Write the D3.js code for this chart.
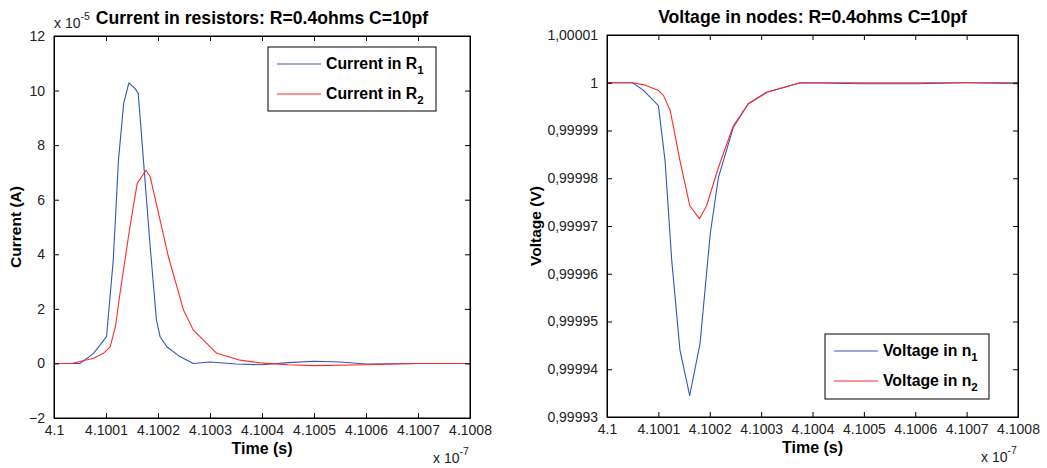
<!DOCTYPE html>
<html><head><meta charset="utf-8">
<script src="https://cdn.jsdelivr.net/npm/d3@7"></script>
<style>
body{margin:0;background:#fff}
svg{display:block}
text{font-family:"Liberation Sans",Arial,Helvetica,sans-serif}
</style>
</head><body>
<svg id="c" width="1047" height="468"></svg>
<script>
// ---------- data ----------
const timeTicks = [4.1, 4.1001, 4.1002, 4.1003, 4.1004, 4.1005, 4.1006, 4.1007, 4.1008];
const currentTicks = [-2, 0, 2, 4, 6, 8, 10, 12];
const voltageTicks = [0.99993, 0.99994, 0.99995, 0.99996, 0.99997, 0.99998, 0.99999, 1, 1.00001];

// time in units of 1e-7 s, current in units of 1e-5 A
const timeR1 = [4.1, 4.10003, 4.10005, 4.100076, 4.100101, 4.100114, 4.100124, 4.100134, 4.100144, 4.100156, 4.100162, 4.100172, 4.100185, 4.100197, 4.100204, 4.100217, 4.100242, 4.100268, 4.1003, 4.10035, 4.1004, 4.10045, 4.1005, 4.10055, 4.1006, 4.1007, 4.1008];
const currentR1 = [0, 0, 0, 0.37, 0.98, 3.8, 7.45, 9.53, 10.28, 10.07, 9.89, 7.45, 4.27, 1.59, 0.98, 0.61, 0.25, 0, 0.05, -0.02, -0.05, 0.03, 0.08, 0.05, -0.02, 0, 0];
const timeR2 = [4.1, 4.100034, 4.100076, 4.100095, 4.100108, 4.100118, 4.100127, 4.100146, 4.10016, 4.100177, 4.100185, 4.100204, 4.10022, 4.100249, 4.100268, 4.100313, 4.100358, 4.100396, 4.10045, 4.1005, 4.1006, 4.1007, 4.1008];
const currentR2 = [0, 0, 0.19, 0.37, 0.61, 1.34, 2.58, 5.0, 6.6, 7.08, 6.84, 5.25, 3.91, 1.96, 1.22, 0.37, 0.12, 0.02, -0.05, -0.08, -0.05, 0, 0];

const timeN1 = [4.1, 4.10005, 4.100071, 4.1001, 4.100113, 4.100126, 4.100142, 4.100161, 4.100181, 4.100201, 4.100217, 4.100246, 4.100275, 4.100311, 4.100376, 4.1005, 4.1006, 4.1007, 4.1008];
const voltageN1 = [1, 1, 0.9999984, 0.9999952, 0.9999837, 0.9999628, 0.999944, 0.9999345, 0.9999453, 0.9999684, 0.9999802, 0.9999907, 0.9999956, 0.999998, 1, 0.9999998, 0.9999998, 1, 1];
const timeN2 = [4.1, 4.10005, 4.100075, 4.1001, 4.10011, 4.100123, 4.100142, 4.100161, 4.10018, 4.100194, 4.100217, 4.100246, 4.100275, 4.100311, 4.100376, 4.1005, 4.1006, 4.1007, 4.1008];
const voltageN2 = [1, 1, 0.9999995, 0.9999984, 0.9999973, 0.9999942, 0.9999837, 0.9999743, 0.9999715, 0.9999743, 0.9999823, 0.999991, 0.9999956, 0.999998, 1, 1, 1, 1, 0.9999998];

// ---------- drawing ----------
const svg = d3.select("#c");
const BLUE = "#3455b8", RED = "#ff2b2b";
const fmtTime = d3.format(".4~f");
const fmtVolt = v => d3.format(".5~f")(v).replace(".", ",");

function panel(o) {
  const x = d3.scaleLinear().domain([timeTicks[0], timeTicks[timeTicks.length-1]]).range([o.x0, o.x1]);
  const y = d3.scaleLinear().domain([o.yTicks[0], o.yTicks[o.yTicks.length-1]]).range([o.y1, o.y0]);
  const g = svg.append("g");
  g.append("rect").attr("x", o.x0).attr("y", o.y0).attr("width", o.x1-o.x0).attr("height", o.y1-o.y0)
    .attr("fill", "#fff").attr("stroke", "none");
  const line = d3.line().x(d => x(d[0])).y(d => y(d[1]));
  o.series.forEach(s => {
    g.append("path").datum(d3.zip(s.t, s.v)).attr("d", line)
      .attr("fill", "none").attr("stroke", s.color).attr("stroke-width", 1.1).attr("stroke-linejoin", "round");
  });
  const tl = 5;
  const bottom = d3.axisBottom(x).tickValues(timeTicks).tickFormat(fmtTime).tickSizeInner(-tl).tickSizeOuter(0).tickPadding(7);
  const top = d3.axisTop(x).tickValues(timeTicks).tickFormat("").tickSizeInner(-tl).tickSizeOuter(0);
  const left = d3.axisLeft(y).tickValues(o.yTicks).tickFormat(o.yFmt).tickSizeInner(-tl).tickSizeOuter(0).tickPadding(9);
  const right = d3.axisRight(y).tickValues(o.yTicks).tickFormat("").tickSizeInner(-tl).tickSizeOuter(0);
  const styleAx = a => { a.select(".domain").attr("stroke", "#000"); a.selectAll(".tick line").attr("stroke", "#000");
    a.selectAll("text").attr("font-size", 14).attr("fill", "#222").attr("font-family", '"Liberation Sans",Arial,sans-serif'); };
  g.append("g").attr("transform", `translate(0,${o.y1})`).call(bottom).call(styleAx);
  g.append("g").attr("transform", `translate(0,${o.y0})`).call(top).call(styleAx);
  g.append("g").attr("transform", `translate(${o.x0},0)`).call(left).call(styleAx);
  g.append("g").attr("transform", `translate(${o.x1},0)`).call(right).call(styleAx);
  g.append("rect").attr("x", o.x0).attr("y", o.y0).attr("width", o.x1-o.x0).attr("height", o.y1-o.y0)
    .attr("fill", "none").attr("stroke", "#000").attr("stroke-width", 1);
  g.append("text").attr("x", (o.x0+o.x1)/2).attr("y", o.y0-12).attr("text-anchor", "middle")
    .attr("font-size", 17.6).attr("font-weight", "bold").attr("fill", "#000").text(o.title);
  g.append("text").attr("x", (o.x0+o.x1)/2).attr("y", o.y1+36).attr("text-anchor", "middle")
    .attr("font-size", 16).attr("font-weight", "bold").attr("fill", "#000").text("Time (s)");
  g.append("text").attr("transform", `translate(${o.ylabX},${(o.y0+o.y1)/2}) rotate(-90)`).attr("text-anchor", "middle")
    .attr("font-size", 15.5).attr("font-weight", "bold").attr("fill", "#000").text(o.ylabel);
  const ex = g.append("text").attr("x", o.x1-37).attr("y", o.y1+45).attr("font-size", 14).attr("fill", "#222");
  ex.append("tspan").text("x 10");
  ex.append("tspan").attr("dy", -8).attr("font-size", 10.5).text("-7");
  if (o.yExp) {
    const ey = g.append("text").attr("x", o.x0).attr("y", o.y0-8).attr("font-size", 14).attr("fill", "#222");
    ey.append("tspan").text("x 10");
    ey.append("tspan").attr("dy", -8).attr("font-size", 10.5).text(o.yExp);
  }
  const L = o.legend;
  g.append("rect").attr("x", L.x).attr("y", L.y).attr("width", L.w).attr("height", L.h)
    .attr("fill", "#fff").attr("stroke", "#000").attr("stroke-width", 1);
  o.series.forEach((s, i) => {
    const yy = L.y + 17 + i*30;
    g.append("line").attr("x1", L.x+9).attr("x2", L.x+53).attr("y1", yy).attr("y2", yy)
      .attr("stroke", s.color).attr("stroke-width", 1.1);
    const t = g.append("text").attr("x", L.x+58).attr("y", yy+5).attr("font-size", 15.8)
      .attr("font-weight", "bold").attr("fill", "#000");
    t.append("tspan").text(s.name);
    t.append("tspan").attr("dy", 5).attr("font-size", 11.5).text(s.sub);
  });
}

panel({
  x0: 54, x1: 470, y0: 36, y1: 418,
  yTicks: currentTicks, yFmt: d3.format("d"), yExp: "-5",
  title: "Current in resistors: R=0.4ohms C=10pf", ylabel: "Current (A)", ylabX: 21,
  series: [
    {t: timeR1, v: currentR1, color: BLUE, name: "Current in R", sub: "1"},
    {t: timeR2, v: currentR2, color: RED, name: "Current in R", sub: "2"}
  ],
  legend: {x: 268, y: 47, w: 168, h: 64}
});
panel({
  x0: 607, x1: 1018, y0: 35, y1: 417,
  yTicks: voltageTicks, yFmt: fmtVolt, yExp: null,
  title: "Voltage in nodes: R=0.4ohms C=10pf", ylabel: "Voltage (V)", ylabX: 541,
  series: [
    {t: timeN1, v: voltageN1, color: BLUE, name: "Voltage in n", sub: "1"},
    {t: timeN2, v: voltageN2, color: RED, name: "Voltage in n", sub: "2"}
  ],
  legend: {x: 825, y: 334, w: 164, h: 65}
});
</script>
</body></html>
